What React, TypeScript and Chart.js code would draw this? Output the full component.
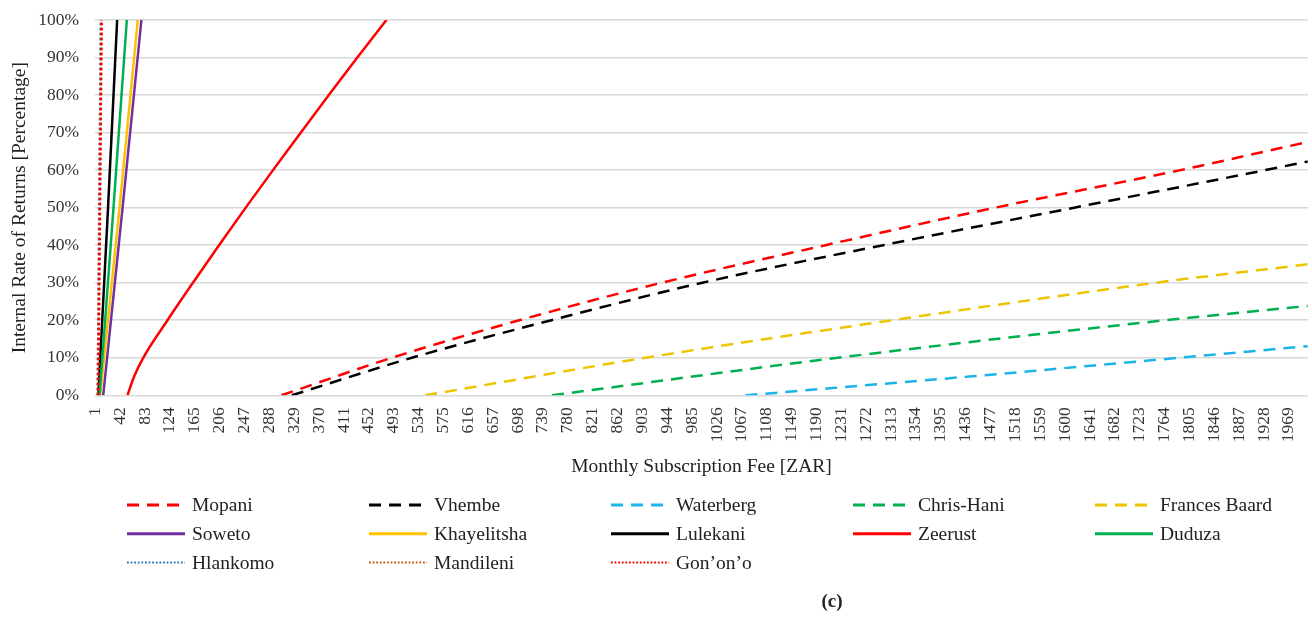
import React, { useEffect, useRef } from "react";
import { Chart, registerables } from "chart.js";
Chart.register(...registerables);

// ---------- data ----------
const xTickLabels = [
  1, 42, 83, 124, 165, 206, 247, 288, 329, 370, 411, 452, 493, 534, 575, 616, 657, 698, 739, 780,
  821, 862, 903, 944, 985, 1026, 1067, 1108, 1149, 1190, 1231, 1272, 1313, 1354, 1395, 1436, 1477,
  1518, 1559, 1600, 1641, 1682, 1723, 1764, 1805, 1846, 1887, 1928, 1969,
];
const yTickValues = [0, 10, 20, 30, 40, 50, 60, 70, 80, 90, 100];

const mopaniFee = [308, 490, 700, 935, 1205, 1485, 1790, 2000];
const mopaniIrr = [0, 10, 20, 30, 40, 50, 60, 67.5];

const vhembeFee = [325, 523, 753, 1002, 1300, 1615, 1930, 2000];
const vhembeIrr = [0, 10, 20, 30, 40, 50, 60, 62.3];

const waterbergFee = [1073, 1442, 1788, 2000];
const waterbergIrr = [0, 5, 10, 13.1];

const chrisHaniFee = [754, 1225, 1765, 2000];
const chrisHaniIrr = [0, 10, 20, 23.8];

const francesBaardFee = [545, 908, 1315, 1750, 2000];
const francesBaardIrr = [0, 10, 20, 30, 34.9];

const sowetoFee = [14, 46, 77];
const sowetoIrr = [0, 50, 100];

const khayelitshaFee = [9, 41, 71];
const khayelitshaIrr = [0, 50, 100];

const lulekaniFee = [6, 22, 37];
const lulekaniIrr = [0, 50, 100];

const zeerustFee = [54, 65, 80, 120, 162, 205, 249, 294, 340, 386, 433, 481];
const zeerustIrr = [0, 5, 10, 20, 30, 40, 50, 60, 70, 80, 90, 100];

const duduzaFee = [8, 31, 53];
const duduzaIrr = [0, 50, 100];

const hlankomoFee = [5, 10];
const hlankomoIrr = [0, 100];

const mandileniFee = [5, 11];
const mandileniIrr = [0, 100];

const gononoFee = [6, 11.5];
const gononoIrr = [0, 100];

// ---------- styles ----------
const DASH = [12, 8];
const DOT = [2.5, 2.5];
const SOLID: number[] = [];

type S = { name: string; fee: number[]; irr: number[]; color: string; dash: number[]; legendDash: number[] };
const series: S[] = [
  { name: "Mopani", fee: mopaniFee, irr: mopaniIrr, color: "#FF0000", dash: DASH, legendDash: [12, 8] },
  { name: "Vhembe", fee: vhembeFee, irr: vhembeIrr, color: "#000000", dash: DASH, legendDash: [12, 8] },
  { name: "Waterberg", fee: waterbergFee, irr: waterbergIrr, color: "#1CB4E8", dash: DASH, legendDash: [12, 8] },
  { name: "Chris-Hani", fee: chrisHaniFee, irr: chrisHaniIrr, color: "#00B050", dash: DASH, legendDash: [12, 8] },
  { name: "Frances Baard", fee: francesBaardFee, irr: francesBaardIrr, color: "#EDC400", dash: DASH, legendDash: [12, 8] },
  { name: "Soweto", fee: sowetoFee, irr: sowetoIrr, color: "#7030A0", dash: SOLID, legendDash: [] },
  { name: "Khayelitsha", fee: khayelitshaFee, irr: khayelitshaIrr, color: "#FFC000", dash: SOLID, legendDash: [] },
  { name: "Lulekani", fee: lulekaniFee, irr: lulekaniIrr, color: "#000000", dash: SOLID, legendDash: [] },
  { name: "Zeerust", fee: zeerustFee, irr: zeerustIrr, color: "#FF0000", dash: SOLID, legendDash: [] },
  { name: "Duduza", fee: duduzaFee, irr: duduzaIrr, color: "#00B050", dash: SOLID, legendDash: [] },
  { name: "Hlankomo", fee: hlankomoFee, irr: hlankomoIrr, color: "#2E75B6", dash: DOT, legendDash: [1.8, 1.8] },
  { name: "Mandileni", fee: mandileniFee, irr: mandileniIrr, color: "#C55A11", dash: DOT, legendDash: [1.8, 1.8] },
  { name: "Gon\u2019on\u2019o", fee: gononoFee, irr: gononoIrr, color: "#FF0000", dash: DOT, legendDash: [1.8, 1.8] },
];

const SERIF = "'Liberation Serif', 'Times New Roman', serif";
const CLEAR = "rgba(0,0,0,0)";

const gridLegend = {
  id: "gridLegend",
  afterDraw(chart: any) {
    const ctx = chart.ctx as CanvasRenderingContext2D;
    ctx.save();
    chart.data.datasets.forEach((ds: any, i: number) => {
      const col = i % 5;
      const row = Math.floor(i / 5);
      const x0 = 127 + 242 * col;
      const y = 505 + 28.7 * row;
      ctx.beginPath();
      ctx.setLineDash(ds.legendDash || []);
      ctx.strokeStyle = ds.borderColor;
      ctx.lineWidth = ds.legendDash && ds.legendDash.length && ds.legendDash[0] < 3 ? 2 : 3;
      ctx.moveTo(x0, y);
      ctx.lineTo(x0 + 58, y);
      ctx.stroke();
      ctx.setLineDash([]);
      ctx.fillStyle = "#222";
      ctx.font = `19.5px ${SERIF}`;
      ctx.textAlign = "left";
      ctx.textBaseline = "middle";
      ctx.fillText(ds.label, x0 + 65, y + 1);
    });
    ctx.font = `bold 19px ${SERIF}`;
    ctx.textAlign = "center";
    ctx.textBaseline = "middle";
    ctx.fillStyle = "#222";
    ctx.fillText("(c)", 832, 602);
    ctx.restore();
  },
};

export default function App() {
  const ref = useRef<HTMLCanvasElement | null>(null);
  useEffect(() => {
    if (!ref.current) return;
    const n = series.length;
    const chart = new Chart(ref.current, {
      type: "line",
      data: {
        datasets: series.map((s, i) => ({
          label: s.name,
          data: s.fee.map((f, k) => ({ x: f, y: s.irr[k] })),
          borderColor: s.color,
          backgroundColor: s.color,
          borderWidth: 2.5,
          borderDash: s.dash,
          legendDash: s.legendDash,
          pointRadius: 0,
          pointHoverRadius: 0,
          cubicInterpolationMode: "monotone",
          fill: false,
          order: n - i,
        })) as any,
      },
      options: {
        responsive: false,
        animation: false,
        events: [],
        layout: { padding: { left: 0, right: 4, top: 20, bottom: 138.3 } },
        plugins: {
          legend: { display: false },
          tooltip: { enabled: false },
          title: { display: false },
        },
        scales: {
          x: {
            type: "linear",
            min: 0.5,
            max: 2000.5,
            afterBuildTicks: (scale: any) => {
              scale.ticks = xTickLabels.map((v) => ({ value: v }));
            },
            afterFit: (scale: any) => {
              scale.height = 83.4;
            },
            ticks: {
              autoSkip: false,
              maxRotation: 90,
              minRotation: 90,
              padding: 0,
              color: "#333",
              font: { family: SERIF, size: 17.5 },
              callback: (v: any) => String(v),
            },
            grid: { display: true, drawOnChartArea: false, color: CLEAR, tickColor: CLEAR, drawTicks: true, tickLength: 12 },
            border: { display: false },
            title: {
              display: true,
              text: "Monthly Subscription Fee [ZAR]",
              color: "#222",
              font: { family: SERIF, size: 19.5 },
              padding: { top: 0, bottom: 0 },
            },
          },
          y: {
            type: "linear",
            min: 0,
            max: 100,
            afterBuildTicks: (scale: any) => {
              scale.ticks = yTickValues.map((v) => ({ value: v }));
            },
            afterFit: (scale: any) => {
              scale.width = 95;
            },
            ticks: {
              padding: 0,
              color: "#333",
              font: { family: SERIF, size: 17.5 },
              callback: (v: any) => `${v}%`,
            },
            grid: { color: "#D9D9D9", lineWidth: 1.5, drawTicks: true, tickLength: 16, tickColor: CLEAR },
            border: { display: false },
            title: {
              display: true,
              text: "Internal Rate of Returns [Percentage]",
              color: "#222",
              font: { family: SERIF, size: 19.5 },
              padding: { top: 8, bottom: 0 },
            },
          },
        },
      },
      plugins: [gridLegend],
    });
    return () => chart.destroy();
  }, []);

  return (
    <div style={{ position: "fixed", left: 0, top: 0, width: 1312, height: 617, background: "#fff" }}>
      <canvas ref={ref} width={1312} height={617} style={{ display: "block", width: 1312, height: 617 }} />
    </div>
  );
}
